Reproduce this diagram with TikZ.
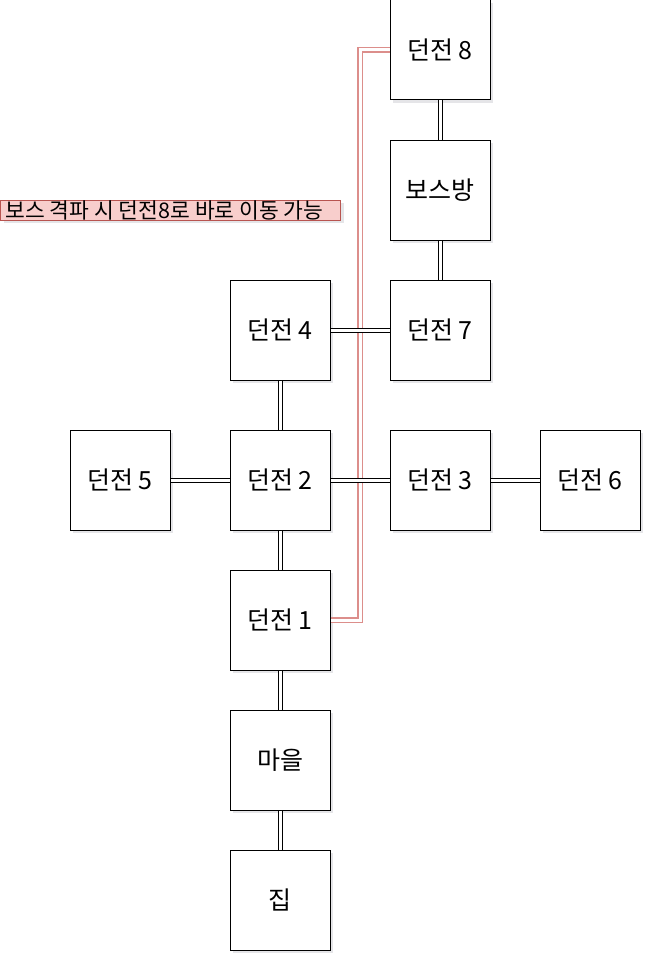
\documentclass[tikz,border=0pt]{standalone}
\usepackage{fontspec}
\setmainfont{Noto Sans CJK KR}
\usetikzlibrary{shadows}
\definecolor{redstroke}{HTML}{B85450}
\definecolor{redfill}{HTML}{F8CECC}
\definecolor{redlink}{HTML}{DC8E8B}
\tikzset{
  room/.style={draw=black, fill=white, line width=1pt, minimum width=100pt, minimum height=100pt,
    inner sep=0pt, font=\fontsize{25}{28}\selectfont,
    drop shadow={shadow xshift=3pt, shadow yshift=-3pt, opacity=0.2, fill=blue!10!black!50}},
  link/.style={draw=black, line width=1pt, double=white, double distance=3pt},
  redlinkstyle/.style={draw=redlink, line width=1.2pt, double=white, double distance=3pt},
  note/.style={draw=redstroke, fill=redfill, line width=1pt, minimum width=340pt, minimum height=20pt,
    inner sep=0pt, font=\fontsize{21.5}{22}\selectfont,
    drop shadow={shadow xshift=3pt, shadow yshift=-3pt, opacity=0.2, fill=blue!10!black!50}}
}
\begin{document}
\begin{tikzpicture}[x=1pt, y=-1pt]
\useasboundingbox (0,0) rectangle (652,963);
\fill[white] (0,0) rectangle (652,963);
\coordinate (rc) at (360,50);
\node[room] (d8) at (440,50) {던전 8};
\node[room] (boss) at (440,190) {보스방};
\node[room] (d7) at (440,330) {던전 7};
\node[room] (d4) at (280,330) {던전 4};
\node[room] (d5) at (120,480) {던전 5};
\node[room] (d2) at (280,480) {던전 2};
\node[room] (d3) at (440,480) {던전 3};
\node[room] (d6) at (590,480) {던전 6};
\node[room] (d1) at (280,620) {던전 1};
\node[room] (vil) at (280,760) {마을};
\node[room] (home) at (280,900) {집};
\node[note] (nt) at (170.5,210) {\hspace*{-12pt}보스 격파 시 던전8로 바로 이동 가능};
\draw[redlinkstyle] (d1.east) -| (rc) -- (d8.west);
\draw[link] (d8) -- (boss);
\draw[link] (boss) -- (d7);
\draw[link] (d4) -- (d7);
\draw[link] (d4) -- (d2);
\draw[link] (d5) -- (d2);
\draw[link] (d2) -- (d3);
\draw[link] (d3) -- (d6);
\draw[link] (d2) -- (d1);
\draw[link] (d1) -- (vil);
\draw[link] (vil) -- (home);
\end{tikzpicture}
\end{document}
